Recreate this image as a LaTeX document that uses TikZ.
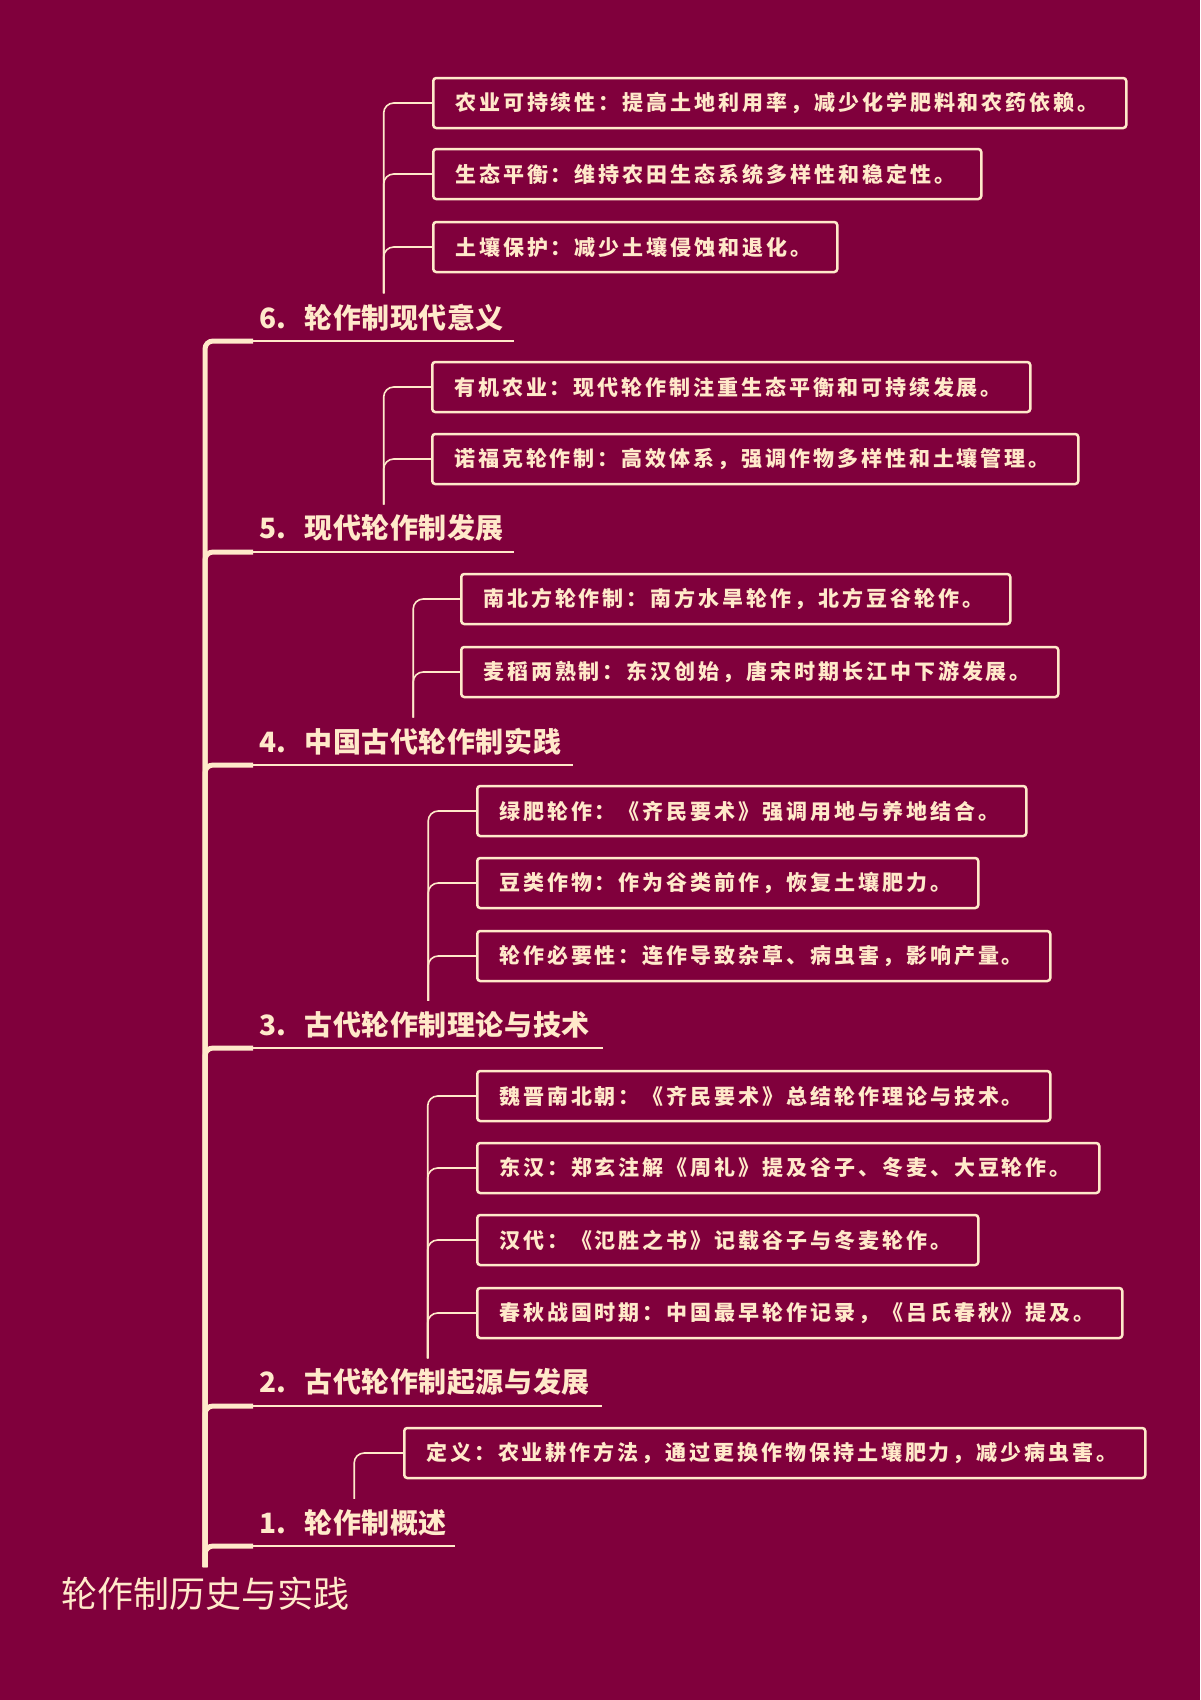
\documentclass[tikz,border=0pt]{standalone}
\usepackage{fontspec}
\setmainfont{Noto Sans CJK SC}
\newfontfamily\leaffont[LetterSpace=14]{Noto Sans CJK SC}
\newfontfamily\topicfont[LetterSpace=2]{Noto Sans CJK SC}
\definecolor{bgmaroon}{HTML}{80003C}
\definecolor{cream}{HTML}{FFE9CA}

\begin{document}
\begin{tikzpicture}[x=1pt, y=-1pt,
  leaf/.style={draw=cream, line width=2.5pt, rounded corners=3pt, text=cream, anchor=west,
    minimum height=50pt, inner xsep=22pt, align=left,
    font=\leaffont\bfseries\fontsize{21}{24}\selectfont},
  topic/.style={text=cream, anchor=south west, inner xsep=6pt, inner ysep=10pt, align=left,
    font=\topicfont\bfseries\fontsize{28}{32}\selectfont},
  trunk/.style={draw=cream, line width=5pt, rounded corners=8pt},
  twig/.style={draw=cream, line width=1.6pt, rounded corners=10pt},
  uline/.style={draw=cream, line width=2.5pt}]

  % page and background
  \useasboundingbox (0,0) rectangle (1200,1700);
  \fill[bgmaroon] (0,0) rectangle (1200,1700);

  % --- Root ---
  \node[text=cream, anchor=north, inner ysep=10pt, font=\fontsize{36}{40}\selectfont] (root) at (205,1567) {轮作制历史与实践};

  % --- Topics (bottom to top) ---
  \node[topic, text width=190pt] (t1) at (253,1546) {\mbox{1.\hspace{18pt}轮作制概述}};
  \node[topic, text width=337pt] (t2) at (253,1406) {\mbox{2.\hspace{18pt}古代轮作制起源与发展}};
  \node[topic, text width=338pt] (t3) at (253,1048) {\mbox{3.\hspace{18pt}古代轮作制理论与技术}};
  \node[topic, text width=308pt] (t4) at (253,765) {\mbox{4.\hspace{18pt}中国古代轮作制实践}};
  \node[topic, text width=249pt] (t5) at (253,552) {\mbox{5.\hspace{18pt}现代轮作制发展}};
  \node[topic, text width=249pt] (t6) at (253,341) {\mbox{6.\hspace{18pt}轮作制现代意义}};

  % --- Leaves ---
  \node[leaf, text width=697pt] (t1a) at (403,1453) {定义：农业耕作方法，通过更换作物保持土壤肥力，减少病虫害。};

  \node[leaf, text width=529pt] (t2a) at (476,1096) {魏晋南北朝：《齐民要术》总结轮作理论与技术。};
  \node[leaf, text width=578pt] (t2b) at (476,1168) {东汉：郑玄注解《周礼》提及谷子、冬麦、大豆轮作。};
  \node[leaf, text width=457pt] (t2c) at (476,1240) {汉代：《氾胜之书》记载谷子与冬麦轮作。};
  \node[leaf, text width=601pt] (t2d) at (476,1313) {春秋战国时期：中国最早轮作记录，《吕氏春秋》提及。};

  \node[leaf, text width=505pt] (t3a) at (476,811) {绿肥轮作：《齐民要术》强调用地与养地结合。};
  \node[leaf, text width=457pt] (t3b) at (476,883) {豆类作物：作为谷类前作，恢复土壤肥力。};
  \node[leaf, text width=529pt] (t3c) at (476,956) {轮作必要性：连作导致杂草、病虫害，影响产量。};

  \node[leaf, text width=505pt] (t4a) at (460,599) {南北方轮作制：南方水旱轮作，北方豆谷轮作。};
  \node[leaf, text width=553pt] (t4b) at (460,672) {麦稻两熟制：东汉创始，唐宋时期长江中下游发展。};

  \node[leaf, text width=554pt] (t5a) at (431,387) {有机农业：现代轮作制注重生态平衡和可持续发展。};
  \node[leaf, text width=602pt] (t5b) at (431,459) {诺福克轮作制：高效体系，强调作物多样性和土壤管理。};

  \node[leaf, text width=649pt] (t6a) at (432,103) {农业可持续性：提高土地利用率，减少化学肥料和农药依赖。};
  \node[leaf, text width=504pt] (t6b) at (432,174) {生态平衡：维持农田生态系统多样性和稳定性。};
  \node[leaf, text width=360pt] (t6c) at (432,247) {土壤保护：减少土壤侵蚀和退化。};

  % --- Trunk and underlines ---
  \foreach \t in {t1,t2,t3,t4,t5,t6} {
    \draw[trunk] (root.north) |- (\t.south west);
    \draw[uline] (\t.south west) -- (\t.south east);
  }

  % --- Twigs from topic to leaf ---
  \draw[twig] (t1.north) |- (t1a.west);
  \foreach \l in {a,b,c,d} \draw[twig] (t2.north) |- (t2\l.west);
  \foreach \l in {a,b,c} \draw[twig] (t3.north) |- (t3\l.west);
  \foreach \l in {a,b} \draw[twig] (t4.north) |- (t4\l.west);
  \foreach \l in {a,b} \draw[twig] (t5.north) |- (t5\l.west);
  \foreach \l in {a,b,c} \draw[twig] (t6.north) |- (t6\l.west);

\end{tikzpicture}
\end{document}
